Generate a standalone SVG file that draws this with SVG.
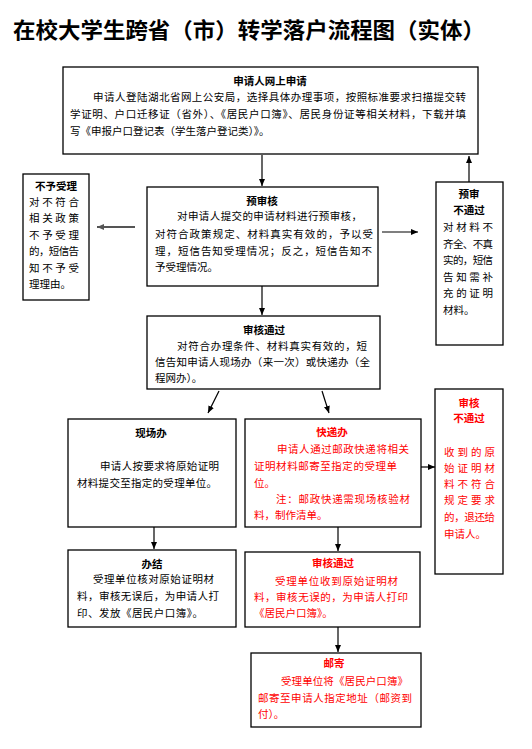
<svg xmlns="http://www.w3.org/2000/svg" width="532" height="749" viewBox="0 0 532 749">
<style>
.bx{fill:#fff;stroke:#000;stroke-width:1.3}
text{font-family:"Noto Sans CJK SC","Liberation Sans",sans-serif;font-size:10.5px;fill:#000}
.t{font-weight:bold;text-anchor:middle}
.r{fill:#ff0000}
.h{font-size:21.5px;font-weight:bold}
.c{stroke:#000;stroke-width:1.2;fill:none}
</style>
<defs>
<marker id="ah" markerWidth="7" markerHeight="6" refX="7" refY="3" orient="auto" markerUnits="userSpaceOnUse"><path d="M0,0 L7,3 L0,6 Z" fill="#000"/></marker>
<marker id="ahg" markerWidth="7" markerHeight="6" refX="7" refY="3" orient="auto" markerUnits="userSpaceOnUse"><path d="M0,0 L7,3 L0,6 Z" fill="#555"/></marker>
</defs>
<rect width="532" height="749" fill="#fff"/>
<text class="h" x="13" y="38" textLength="472" lengthAdjust="spacingAndGlyphs">在校大学生跨省（市）转学落户流程图（实体）</text>

<g id="connectors">
<line class="c" x1="262" y1="155" x2="262" y2="186" marker-end="url(#ah)"/>
<line class="c" x1="469" y1="182" x2="469" y2="156" marker-end="url(#ah)"/>
<line x1="135" y1="227" x2="97" y2="227" stroke="#555" stroke-width="2" marker-end="url(#ahg)"/>
<line class="c" x1="382" y1="232" x2="418" y2="232" marker-end="url(#ah)"/>
<line class="c" x1="262" y1="286" x2="262" y2="315" marker-end="url(#ah)"/>
<line class="c" x1="219" y1="391" x2="208" y2="413" marker-end="url(#ah)"/>
<line class="c" x1="322" y1="391" x2="329" y2="413" marker-end="url(#ah)"/>
<line class="c" x1="421" y1="467" x2="435" y2="467" marker-end="url(#ah)"/>
<line class="c" x1="154" y1="527" x2="154" y2="549" marker-end="url(#ah)"/>
<line class="c" x1="338" y1="527" x2="338" y2="551" marker-end="url(#ah)"/>
<line class="c" x1="338" y1="627" x2="338" y2="652" marker-end="url(#ah)"/>
</g>

<g id="apply">
<rect class="bx" x="63" y="67" width="415" height="87"/>
<text class="t" x="270" y="85">申请人网上申请</text>
<text x="93" y="101" textLength="373" lengthAdjust="spacing">申请人登陆湖北省网上公安局，选择具体办理事项，按照标准要求扫描提交转</text>
<text x="70" y="118" textLength="396" lengthAdjust="spacing">学证明、户口迁移证（省外）、《居民户口簿》、居民身份证等相关材料，下载并填</text>
<text x="70" y="135">写《申报户口登记表（学生落户登记类）》。</text>
</g>

<g id="prereview">
<rect class="bx" x="147" y="187" width="231" height="99"/>
<text class="t" x="262" y="205">预审核</text>
<text x="177" y="220" textLength="185" lengthAdjust="spacing">对申请人提交的申请材料进行预审核，</text>
<text x="155" y="238" textLength="218" lengthAdjust="spacing">对符合政策规定、材料真实有效的，予以受</text>
<text x="155" y="255" textLength="217" lengthAdjust="spacing">理，短信告知受理情况；反之，短信告知不</text>
<text x="155" y="271">予受理情况。</text>
</g>

<g id="reject">
<rect class="bx" x="23" y="174" width="66" height="126"/>
<text class="t" x="56" y="190">不予受理</text>
<text x="29" y="206" textLength="50" lengthAdjust="spacing">对不符合</text>
<text x="29" y="222" textLength="50" lengthAdjust="spacing">相关政策</text>
<text x="29" y="239" textLength="50" lengthAdjust="spacing">不予受理</text>
<text x="29" y="255" textLength="50" lengthAdjust="spacing">的，短信告</text>
<text x="29" y="272" textLength="50" lengthAdjust="spacing">知不予受</text>
<text x="29" y="288">理理由。</text>
</g>

<g id="prefail">
<rect class="bx" x="436" y="182" width="67" height="163"/>
<text class="t" x="469" y="198">预审</text>
<text class="t" x="469" y="214">不通过</text>
<text x="443" y="231" textLength="50" lengthAdjust="spacing">对材料不</text>
<text x="443" y="248" textLength="50" lengthAdjust="spacing">齐全、不真</text>
<text x="443" y="264" textLength="50" lengthAdjust="spacing">实的，短信</text>
<text x="443" y="281" textLength="50" lengthAdjust="spacing">告知需补</text>
<text x="443" y="297" textLength="50" lengthAdjust="spacing">充的证明</text>
<text x="443" y="314">材料。</text>
</g>

<g id="pass">
<rect class="bx" x="147" y="316" width="233" height="73"/>
<text class="t" x="264" y="334">审核通过</text>
<text x="177" y="350" textLength="190" lengthAdjust="spacing">对符合办理条件、材料真实有效的，短</text>
<text x="155" y="366" textLength="215" lengthAdjust="spacing">信告知申请人现场办（来一次）或快递办（全</text>
<text x="155" y="382">程网办）。</text>
</g>

<g id="onsite">
<rect class="bx" x="68" y="419" width="168" height="108"/>
<text class="t" x="151" y="437">现场办</text>
<text x="100" y="470" textLength="119" lengthAdjust="spacing">申请人按要求将原始证明</text>
<text x="77" y="487" textLength="140" lengthAdjust="spacing">材料提交至指定的受理单位。</text>
</g>

<g id="express">
<rect class="bx" x="245" y="419" width="176" height="108"/>
<text class="t r" x="332" y="436">快递办</text>
<text class="r" x="277" y="453" textLength="132" lengthAdjust="spacing">申请人通过邮政快递将相关</text>
<text class="r" x="254" y="470" textLength="143" lengthAdjust="spacing">证明材料邮寄至指定的受理单</text>
<text class="r" x="254" y="487">位。</text>
<text class="r" x="276" y="503" textLength="134" lengthAdjust="spacing">注：邮政快递需现场核验材</text>
<text class="r" x="254" y="519">料，制作清单。</text>
</g>

<g id="fail">
<rect class="bx" x="435" y="389" width="68" height="185"/>
<text class="t r" x="469" y="407">审核</text>
<text class="t r" x="469" y="422">不通过</text>
<text class="r" x="444" y="456" textLength="51" lengthAdjust="spacing">收到的原</text>
<text class="r" x="444" y="472" textLength="51" lengthAdjust="spacing">始证明材</text>
<text class="r" x="444" y="488" textLength="51" lengthAdjust="spacing">料不符合</text>
<text class="r" x="444" y="504" textLength="51" lengthAdjust="spacing">规定要求</text>
<text class="r" x="444" y="521" textLength="51" lengthAdjust="spacing">的，退还给</text>
<text class="r" x="444" y="538">申请人。</text>
</g>

<g id="done">
<rect class="bx" x="68" y="550" width="168" height="77"/>
<text class="t" x="152" y="568">办结</text>
<text x="93" y="583" textLength="121" lengthAdjust="spacing">受理单位核对原始证明材</text>
<text x="77" y="600" textLength="142" lengthAdjust="spacing">料，审核无误后，为申请人打</text>
<text x="77" y="617" textLength="126" lengthAdjust="spacing">印、发放《居民户口簿》。</text>
</g>

<g id="passred">
<rect class="bx" x="245" y="552" width="175" height="75"/>
<text class="t r" x="333" y="567">审核通过</text>
<text class="r" x="275" y="585" textLength="123" lengthAdjust="spacing">受理单位收到原始证明材</text>
<text class="r" x="254" y="601" textLength="154" lengthAdjust="spacing">料，审核无误的，为申请人打印</text>
<text class="r" x="254" y="617">《居民户口簿》。</text>
</g>

<g id="mail">
<rect class="bx" x="251" y="653" width="170" height="74"/>
<text class="t r" x="334" y="667">邮寄</text>
<text class="r" x="281" y="685" textLength="127" lengthAdjust="spacing">受理单位将《居民户口簿》</text>
<text class="r" x="258" y="702" textLength="154" lengthAdjust="spacing">邮寄至申请人指定地址（邮资到</text>
<text class="r" x="258" y="718">付）。</text>
</g>
</svg>
